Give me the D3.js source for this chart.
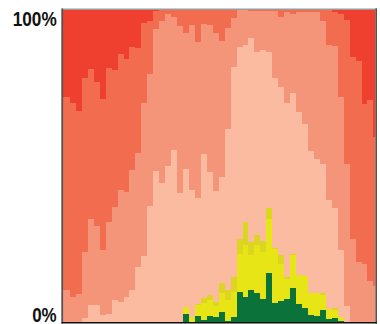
<!DOCTYPE html>
<html>
<head>
<meta charset="utf-8">
<script src="https://cdn.jsdelivr.net/npm/d3@7"></script>
<style>
  html, body { margin: 0; padding: 0; background: #fff; }
  svg { display: block; }
  .lbl { font-family: "Liberation Sans Narrow", "Arial Narrow", "Liberation Sans", sans-serif; font-weight: bold; font-size: 21px; fill: #111; }
</style>
</head>
<body>
<svg id="chart" width="380" height="324"></svg>
<script>
// ---- data (percent share per weekly column, bottom layer first) ----
const columns = d3.range(53);
const tickLabels = ["0%", "100%"];
const keys = ["green", "yellow", "darkYellow", "lightest", "salmon", "coral", "red"];

const green = [0,0,0,0,0,0,0,0,0,0,0,0,0,0,0,0,0,0,0,0,
  2.6,0.1,1.9,0.6,1.9,1.6,3.2,0.4,1.6,9.6,8.1,10.3,9.4,7.5,15.8,6.1,6.7,7.5,10.9,5.8,4.5,2.2,1.8,3.8,1.1,1.4,0.4,
  0,0,0,0,0,0];
const yellow = [0,0,0,0,0,0,0,0,0,0,0,0,0,0,0,0,0,0,0,0,
  2.1,1.4,3.4,5.5,5.1,3.5,6.2,6.6,7.9,12.2,16.7,11.3,15.4,15.0,17.3,17.2,12.0,6.2,10.6,9.2,10.3,7.0,7.4,5.0,3.2,2.6,1.2,
  0,0,0,0,0,0];
const darkYellow = [0,0,0,0,0,0,0,0,0,0,0,0,0,0,0,0,0,0,0,0,
  0.1,0,0.4,1.7,1.5,1.3,3.0,3.2,4.9,4.7,7.3,4.1,3.0,3.5,3.4,0.4,2.8,0.7,0.3,0,0,0,0,0.4,0,0.4,0,
  0,0,0,0,0,0];
const lightest = [0,0,0,1.2,5.4,5.4,2.2,2.6,6.9,6.3,7.9,10.3,17.7,21.2,37.2,48.4,44.6,50.0,55.0,41.4,
  44.1,40.9,34.1,45.8,39.4,35.6,34.1,51.7,67.5,61.7,56.8,65.4,58.8,61.3,50.1,54.5,53.8,55.9,51.7,52.4,48.8,45.7,43.1,41.5,34.8,32.1,21.5,
  5.1,0,0,0,0,0];
const salmon = [10.2,8.0,8.9,21.3,27.6,25.5,20.9,29.4,29.9,36.1,33.8,38.4,36.6,49.0,42.3,45.4,52.0,48.7,42.8,53.6,
  43.7,53.0,50.0,41.8,47.3,50.7,43.8,32.4,15.6,11.8,11.2,8.8,13.0,12.3,13.0,21.3,22.6,29.2,25.5,32.2,35.8,44.5,47.0,46.0,49.7,52.0,48.7,
  45.5,26.6,19.3,18.7,13.1,11.6];
const coral = [62.0,62.2,58.8,56.0,48.1,46.6,48.5,49.5,44.1,43.4,42.6,39.5,33.7,25.5,17.0,6.0,3.5,1.3,2.2,5.0,
  7.3,4.7,10.2,4.4,4.7,7.3,9.8,5.7,2.6,0,0,0.2,0.4,0.4,0.4,0.4,2.2,0.6,1.2,0.5,0.6,0.6,0.6,3.5,11.2,10.7,26.5,
  46.2,58.3,64.3,51.1,57.9,47.3];
const red = [27.9,29.8,32.4,21.7,18.9,23.2,28.5,18.5,19.1,14.2,15.7,11.9,12.1,4.3,3.4,0.2,0,0,0,0,
  0,0,0,0,0,0,0,0,0,0,0,0,0,0,0,0,0,0,0,0,0,0,0,0,0,0.7,1.4,
  3.1,15.1,16.3,30.2,28.9,40.7];

const colors = {
  green: "#0b7239", yellow: "#e8e517", darkYellow: "#dcd522",
  lightest: "#fbbba0", salmon: "#f4957a", coral: "#f26c50", red: "#ef3f2f"
};

// ---- build table ----
const series = { green, yellow, darkYellow, lightest, salmon, coral, red };
const table = columns.map((c, i) => {
  const row = { col: c };
  keys.forEach(k => row[k] = series[k][i]);
  return row;
});

// ---- layout ----
const plotLeft = 63, plotRight = 375.5, plotTop = 10, plotBottom = 322;
const svg = d3.select("#chart");

const x = d3.scaleLinear().domain([0, 53]).range([64.05, 64.05 + 53 * 5.949]);
const y = d3.scaleLinear().domain([0, 1]).range([plotBottom, plotTop]);

const stacked = d3.stack().keys(keys).offset(d3.stackOffsetExpand)(table);

svg.append("clipPath").attr("id", "clip")
  .append("rect")
  .attr("x", plotLeft).attr("y", plotTop)
  .attr("width", plotRight - plotLeft).attr("height", plotBottom - plotTop);

const area = d3.area()
  .curve(d3.curveStepAfter)
  .x(d => d.i === 0 ? plotLeft : x(d.i))
  .y0(d => y(d.lo))
  .y1(d => y(d.hi));

svg.append("g").attr("clip-path", "url(#clip)")
  .selectAll("path")
  .data(stacked)
  .join("path")
  .attr("fill", s => colors[s.key])
  .attr("shape-rendering", "crispEdges")
  .attr("d", s => {
    const pts = s.map((d, i) => ({ i, lo: d[0], hi: d[1] }));
    const last = pts[pts.length - 1];
    pts.push({ i: pts.length, lo: last.lo, hi: last.hi });
    return area(pts);
  });

// ---- frame ----
svg.append("line").attr("x1", plotLeft - 1).attr("x2", plotRight + 1.5)
  .attr("y1", plotTop - 0.8).attr("y2", plotTop - 0.8)
  .attr("stroke", "#9a9a9a").attr("stroke-width", 1.6);
svg.append("line").attr("x1", plotRight + 0.7).attr("x2", plotRight + 0.7)
  .attr("y1", plotTop - 1.5).attr("y2", plotBottom + 1.5)
  .attr("stroke", "#4a4a4a").attr("stroke-width", 1.5);
svg.append("line").attr("x1", plotLeft - 0.8).attr("x2", plotLeft - 0.8)
  .attr("y1", plotTop - 1.5).attr("y2", plotBottom + 1.5)
  .attr("stroke", "#555").attr("stroke-width", 1.8);
svg.append("line").attr("x1", plotLeft - 1.5).attr("x2", plotRight + 1.5)
  .attr("y1", plotBottom + 0.7).attr("y2", plotBottom + 0.7)
  .attr("stroke", "#111").attr("stroke-width", 1.5);

// ---- y labels ----
svg.append("text").attr("class", "lbl")
  .attr("x", 56.7).attr("y", y(1) + 16)
  .attr("text-anchor", "end")
  .attr("textLength", 44).attr("lengthAdjust", "spacingAndGlyphs")
  .text(tickLabels[1]);
svg.append("text").attr("class", "lbl")
  .attr("x", 56.7).attr("y", y(0))
  .attr("text-anchor", "end")
  .attr("textLength", 24.5).attr("lengthAdjust", "spacingAndGlyphs")
  .text(tickLabels[0]);
</script>
</body>
</html>
